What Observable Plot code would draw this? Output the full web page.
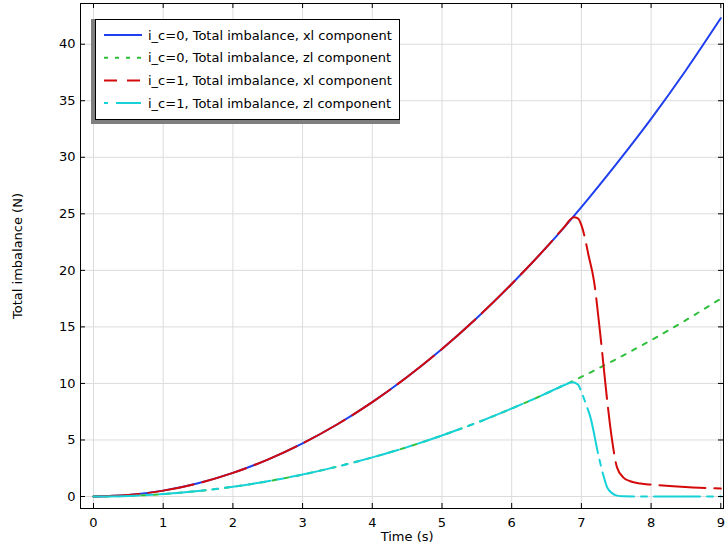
<!DOCTYPE html>
<html><head><meta charset="utf-8">
<script src="https://cdn.jsdelivr.net/npm/d3@7"></script>
<script src="https://cdn.jsdelivr.net/npm/@observablehq/plot@0.6"></script>
<style>body{margin:0;background:#fff;font-family:"DejaVu Sans",sans-serif}</style>
</head><body><div id="chart"></div>
<script>
// ---- data ----
const time0 = [0,0.5,1,1.5,2,2.5,3,3.5,4,4.5,5,5.5,6,6.5,7,7.5,8,8.5,9];
const xl_ic0 = [0,0.13,0.52,1.17,2.09,3.26,4.70,6.39,8.35,10.57,13.05,15.79,18.8,22.05,25.6,29.4,33.4,37.7,42.3];
const zl_ic0 = [0,0.054,0.216,0.49,0.86,1.35,1.94,2.65,3.46,4.37,5.4,6.53,7.78,9.13,10.58,12.15,13.82,15.6,17.5];
const time1x = [0,0.5,1,1.5,2,2.5,3,3.5,4,4.5,5,5.5,6,6.5,6.75,6.89,6.95,7.0,7.05,7.1,7.18,7.27,7.37,7.44,7.51,7.6,7.7,7.85,8.0,8.32,8.6,9];
const xl_ic1 = [0,0.13,0.52,1.17,2.09,3.26,4.70,6.39,8.35,10.57,13.05,15.79,18.8,22.05,23.8,24.7,24.6,24.0,22.9,21.4,19.1,14.4,8.5,5.0,2.6,1.7,1.35,1.15,1.05,0.9,0.8,0.7];
const time1z = [0,0.5,1,1.5,2,2.5,3,3.5,4,4.5,5,5.5,6,6.5,6.75,6.87,6.95,7.01,7.07,7.13,7.25,7.31,7.37,7.44,7.51,7.6,8,9];
const zl_ic1 = [0,0.054,0.216,0.49,0.86,1.35,1.94,2.65,3.46,4.37,5.4,6.53,7.78,9.13,9.84,10.1,9.9,9.1,8.1,7.0,3.5,2.0,0.8,0.3,0.08,0.02,0,0];
const xTicks = [0,1,2,3,4,5,6,7,8,9];
const yTicks = [0,5,10,15,20,25,30,35,40];
const seriesNames = ["i_c=0, Total imbalance, xl component","i_c=0, Total imbalance, zl component","i_c=1, Total imbalance, xl component","i_c=1, Total imbalance, zl component"];
const seriesColors = ["#1f3fee","#2fbf3a","#d40a0a","#16d2d8"];
const seriesDash = [null,"4.5,7.5","46,9","46,7,6,7"];
const legendDash = [null,"4,7","13,10","4,8,21,0"];

const rows = (t, v) => t.map((d,i)=>({t:d, v:v[i]}));
const sets = [rows(time0,xl_ic0), rows(time0,zl_ic0), rows(time1x,xl_ic1), rows(time1z,zl_ic1)];

const xDom = [-0.1865, 9.039], yDom = [-1.06, 43.6];
const tx = 5/69.7, ty = 5/11.3;

const chart = Plot.plot({
  width: 727, height: 547,
  marginLeft: 80, marginRight: 4, marginTop: 3, marginBottom: 39,
  style: {fontFamily: "DejaVu Sans, sans-serif", fontSize: "13px", background: "#fff"},
  x: {domain: xDom, axis: null},
  y: {domain: yDom, axis: null},
  marks: [
    Plot.ruleX(xTicks, {stroke: "#dcdcdc", strokeWidth: 1}),
    Plot.ruleY(yTicks, {stroke: "#dcdcdc", strokeWidth: 1}),
    ...sets.map((s,i)=>Plot.line(s, {x:"t", y:"v", stroke: seriesColors[i], strokeWidth: 2, strokeDasharray: seriesDash[i], curve: "monotone-x"})),
    Plot.ruleX(xTicks, {y1: yDom[0], y2: yDom[0]+ty, stroke: "black"}),
    Plot.ruleX(xTicks, {y1: yDom[1], y2: yDom[1]-ty, stroke: "black"}),
    Plot.ruleY(yTicks, {x1: xDom[0], x2: xDom[0]+tx, stroke: "black"}),
    Plot.ruleY(yTicks, {x1: xDom[1], x2: xDom[1]-tx, stroke: "black"}),
    Plot.frame({stroke: "black", strokeWidth: 1}),
    Plot.axisX(xTicks, {anchor: "bottom", tickSize: 0, tickPadding: 9, label: null, tickFormat: d=>d, fontSize: 13}),
    Plot.axisY(yTicks, {anchor: "left", tickSize: 0, tickPadding: 5, label: null, tickFormat: d=>d, fontSize: 13}),
    Plot.text(["Time (s)"], {x: 4.5, frameAnchor: "bottom", dy: 32, text: d=>d, fontSize: 13}),
    Plot.text(["Total imbalance (N)"], {frameAnchor: "left", textAnchor: "middle", dx: -63, rotate: -90, text: d=>d, fontSize: 13})
  ]
});
document.getElementById("chart").appendChild(chart);

// legend
const svg = d3.select(chart);
const g = svg.append("g");
g.append("rect").attr("x",91).attr("y",19).attr("width",309).attr("height",105).attr("fill","#7f7f7f");
g.append("rect").attr("x",95.5).attr("y",19.5).attr("width",304).attr("height",100).attr("fill","#fff").attr("stroke","black");
seriesNames.forEach((n,i)=>{
  const y = 35 + i*22.7;
  g.append("line").attr("x1",104).attr("x2",142).attr("y1",y).attr("y2",y)
    .attr("stroke",seriesColors[i]).attr("stroke-width",2)
    .attr("stroke-dasharray", legendDash[i]);
  g.append("text").attr("x",148).attr("y",y).attr("dy","0.35em").attr("text-anchor","start")
    .attr("font-size",13).attr("font-family","DejaVu Sans, sans-serif").attr("fill","#000").text(n);
});
</script></body></html>
